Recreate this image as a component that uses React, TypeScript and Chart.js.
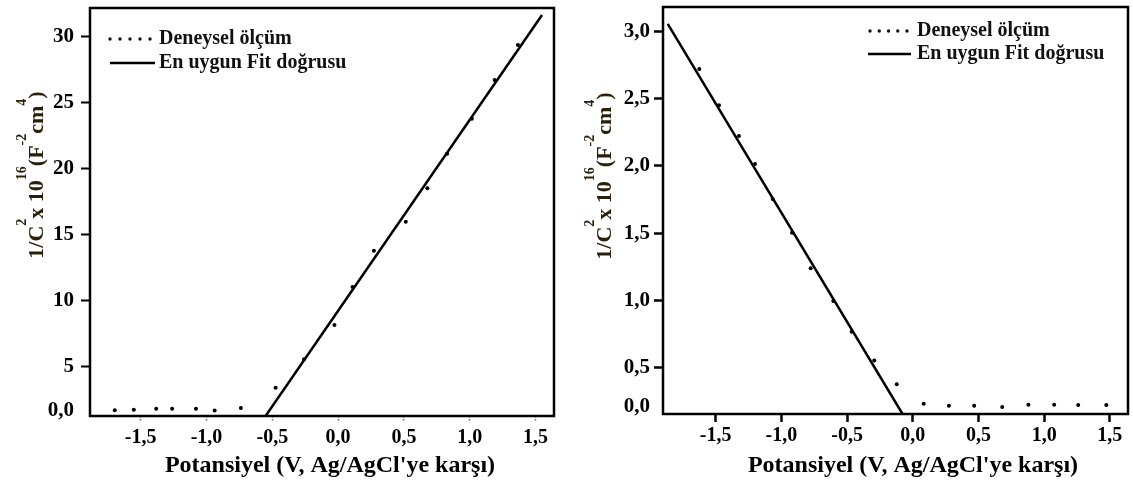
import React, { useEffect, useRef } from 'react';
import { Chart, registerables, LinearScale } from 'chart.js';

// ---- shared text ----
const seriesLabels = ['Deneysel ölçüm', 'En uygun Fit doğrusu'];
const xTitle = "Potansiyel (V, Ag/AgCl'ye karşı)";
// y title pieces: [text, isSuperscript]
const yTitleParts: [string, boolean][] = [
  ['1/C', false], ['2', true], ['x 10', false], ['16', true],
  ['(F', false], ['-2', true], ['cm', false], ['4', true], [')', false],
];

// ---- tick values ----
const xTicks = [-1.5, -1.0, -0.5, 0.0, 0.5, 1.0, 1.5];
const leftYTicks = [0, 5, 10, 15, 20, 25, 30];
const rightYTicks = [0, 0.5, 1.0, 1.5, 2.0, 2.5, 3.0];

// ---- left panel: measured points and fitted line ----
const leftMeasX = [-1.697, -1.552, -1.382, -1.261, -1.080, -0.938, -0.739,
  -0.475, -0.259, -0.028, 0.109, 0.272, 0.514, 0.678, 0.828, 1.016, 1.189, 1.366];
const leftMeasY = [0.05, 0.12, 0.21, 0.21, 0.21, 0.02, 0.31,
  2.6, 5.54, 8.14, 11.01, 13.76, 15.96, 18.49, 21.10, 23.75, 26.68, 29.33];
const leftFitX = [-0.551, 1.549];
const leftFitY = [-0.6, 31.6];

// ---- right panel: measured points and fitted line ----
const rightMeasX = [-1.625, -1.475, -1.323, -1.201, -1.066, -0.919, -0.777, -0.605, -0.465,
  -0.293, -0.122, 0.083, 0.275, 0.467, 0.681, 0.880, 1.076, 1.259, 1.473];
const rightMeasY = [2.721, 2.451, 2.223, 2.015, 1.755, 1.504, 1.240, 0.997, 0.769,
  0.555, 0.29, 0.04, 0.015, 0.015, 0.0, 0.03, 0.03, 0.025, 0.025];
const rightFitX = [-1.865, -0.078];
const rightFitY = [3.055, -0.09];

const FONT = '"Liberation Serif", "Times New Roman", serif';

// Linear axis whose segment below `breakAt` is compressed, so the zero
// label sits just above the frame (axis break near the origin).
class SplitLinearScale extends LinearScale {
  static id = 'splitLinear';
  static defaults = {};
  toDisplay(v: number) {
    const o: any = this.options;
    const b = o.breakAt, z = o.zeroAt;
    return v >= b ? v : z + (v * (b - z)) / b;
  }
  fromDisplay(d: number) {
    const o: any = this.options;
    const b = o.breakAt, z = o.zeroAt;
    return d >= b ? d : ((d - z) * b) / (b - z);
  }
  configure() {
    super.configure();
    const self: any = this;
    self._startValue = this.toDisplay(this.min);
    self._endValue = this.toDisplay(this.max);
    self._valueRange = self._endValue - self._startValue;
  }
  getPixelForValue(value: any) {
    if (value === null || value === undefined || isNaN(value)) return NaN;
    const self: any = this;
    return this.getPixelForDecimal((this.toDisplay(value) - self._startValue) / self._valueRange);
  }
  getValueForPixel(pixel: number) {
    const self: any = this;
    return this.fromDisplay(self._startValue + this.getDecimalForPixel(pixel) * self._valueRange);
  }
}

Chart.register(...registerables, SplitLinearScale);

// Frame, in-plot legend and axis titles
const panelDecor = {
  id: 'panelDecor',
  afterDatasetsDraw(chart: any) {
    const { ctx, chartArea: a } = chart;
    ctx.save();
    ctx.strokeStyle = '#000';
    ctx.lineWidth = 2.5;
    ctx.strokeRect(a.left, a.top, a.right - a.left, a.bottom - a.top);
    ctx.restore();
  },
  afterDraw(chart: any, _args: any, o: any) {
    const { ctx } = chart;
    const ds = chart.data.datasets;
    ctx.save();
    // legend
    ctx.fillStyle = '#111';
    ctx.strokeStyle = '#000';
    ctx.font = `bold 20px ${FONT}`;
    ctx.textAlign = 'left';
    ctx.textBaseline = 'middle';
    const [d0, d1] = o.dotsX;
    for (let i = 0; i < 5; i++) {
      ctx.beginPath();
      ctx.arc(d0 + (i * (d1 - d0)) / 4, o.rowY[0], 1.7, 0, Math.PI * 2);
      ctx.fill();
    }
    ctx.fillText(ds[0].label, o.textX, o.rowY[0]);
    ctx.lineWidth = 2.5;
    ctx.beginPath();
    ctx.moveTo(o.lineX[0], o.rowY[1]);
    ctx.lineTo(o.lineX[1], o.rowY[1]);
    ctx.stroke();
    ctx.fillText(ds[1].label, o.textX, o.rowY[1]);

    // x title
    ctx.fillStyle = '#000';
    ctx.font = `bold 24px ${FONT}`;
    ctx.textAlign = 'center';
    ctx.fillText(xTitle, o.xTitle[0], o.xTitle[1]);

    // y title, rotated, with superscripts
    const mainFont = `bold 22px ${FONT}`;
    const supFont = `bold 14px ${FONT}`;
    let total = 0;
    const widths = yTitleParts.map(([t, sup]) => {
      ctx.font = sup ? supFont : mainFont;
      const w = ctx.measureText(t).width;
      total += w;
      return w;
    });
    ctx.translate(o.yTitle[0], o.yTitle[1]);
    ctx.rotate(-Math.PI / 2);
    ctx.fillStyle = '#2a1f08';
    ctx.textAlign = 'left';
    ctx.textBaseline = 'alphabetic';
    let x = -total / 2;
    yTitleParts.forEach(([t, sup], i) => {
      ctx.font = sup ? supFont : mainFont;
      ctx.fillText(t, x, sup ? -17 : 0);
      x += widths[i];
    });
    ctx.restore();
  },
};

type PanelSpec = {
  width: number;
  area: { left: number; right: number; top: number; bottom: number };
  xRange: [number, number];
  yRange: [number, number];
  yBreak: [number, number];
  yTicks: number[];
  yLabel: (v: number) => string;
  measX: number[]; measY: number[]; fitX: number[]; fitY: number[];
  xTick: { length: number; width: number; color: string; dash: number[]; padding: number };
  yTick: { length: number; width: number; padding: number };
  decor: any;
};

const comma = (v: number) => v.toFixed(1).replace('.', ',');

function buildConfig(p: PanelSpec): any {
  const tickFont = { family: FONT, size: 20, weight: 'bold' as const };
  return {
    type: 'scatter',
    data: {
      datasets: [
        {
          label: seriesLabels[0],
          data: p.measX.map((x, i) => ({ x, y: p.measY[i] })),
          showLine: false,
          pointRadius: 2,
          pointBackgroundColor: '#000',
          pointBorderWidth: 0,
        },
        {
          label: seriesLabels[1],
          data: p.fitX.map((x, i) => ({ x, y: p.fitY[i] })),
          showLine: true,
          borderColor: '#000',
          borderWidth: 2.5,
          pointRadius: 0,
        },
      ],
    },
    options: {
      responsive: false,
      animation: false,
      devicePixelRatio: 1,
      layout: { padding: { top: p.area.top, right: p.width - p.area.right, left: 0, bottom: 0 } },
      plugins: {
        legend: { display: false },
        tooltip: { enabled: false },
        panelDecor: p.decor,
      },
      scales: {
        x: {
          type: 'linear',
          position: 'bottom',
          min: p.xRange[0],
          max: p.xRange[1],
          afterBuildTicks: (s: any) => { s.ticks = xTicks.map((value) => ({ value })); },
          afterFit: (s: any) => {
            s.height = 483 - p.area.bottom;
            s.paddingLeft = 0;
            s.paddingRight = 0;
          },
          border: { display: false },
          grid: {
            drawOnChartArea: false,
            drawTicks: true,
            tickLength: p.xTick.length,
            tickWidth: p.xTick.width,
            tickColor: p.xTick.color,
            tickBorderDash: p.xTick.dash,
          },
          ticks: {
            font: tickFont,
            color: '#000',
            padding: p.xTick.padding,
            maxRotation: 0,
            autoSkip: false,
            callback: (v: any) => comma(Number(v)),
          },
        },
        y: {
          type: 'splitLinear',
          breakAt: p.yBreak[0],
          zeroAt: p.yBreak[1],
          min: p.yRange[0],
          max: p.yRange[1],
          afterBuildTicks: (s: any) => { s.ticks = p.yTicks.map((value) => ({ value })); },
          afterFit: (s: any) => {
            s.width = p.area.left;
            s.paddingTop = 0;
            s.paddingBottom = 0;
          },
          border: { display: false },
          grid: {
            drawOnChartArea: false,
            drawTicks: true,
            tickLength: p.yTick.length,
            tickWidth: p.yTick.width,
            tickColor: (c: any) => (c.tick && c.tick.value === 0 ? 'rgba(0,0,0,0)' : '#000'),
          },
          ticks: {
            font: { ...tickFont, size: 21 },
            color: '#000',
            padding: p.yTick.padding,
            autoSkip: false,
            callback: (v: any) => p.yLabel(Number(v)),
          },
        },
      },
    },
    plugins: [panelDecor],
  };
}

const leftPanel: PanelSpec = {
  width: 566,
  area: { left: 90, right: 554, top: 8, bottom: 416 },
  xRange: [-1.885, 1.64],
  yRange: [-0.6, 32.13],
  yBreak: [5, 1.65],
  yTicks: leftYTicks,
  yLabel: (v) => (v === 0 ? '0,0' : String(v)),
  measX: leftMeasX, measY: leftMeasY, fitX: leftFitX, fitY: leftFitY,
  xTick: { length: 6, width: 1.5, color: '#666', dash: [1.5, 1.5], padding: 4 },
  yTick: { length: 9, width: 2, padding: 7 },
  decor: {
    dotsX: [110, 150], rowY: [39, 63], lineX: [110, 155], textX: 159,
    xTitle: [330, 466], yTitle: [43, 175],
  },
};

const rightPanel: PanelSpec = {
  width: 567,
  area: { left: 97, right: 562, top: 7, bottom: 414 },
  xRange: [-1.901, 1.638],
  yRange: [-0.09, 3.181],
  yBreak: [0.5, 0.21],
  yTicks: rightYTicks,
  yLabel: (v) => comma(v),
  measX: rightMeasX, measY: rightMeasY, fitX: rightFitX, fitY: rightFitY,
  xTick: { length: 8, width: 2.5, color: '#000', dash: [], padding: 2 },
  yTick: { length: 9, width: 2.5, padding: 4 },
  decor: {
    dotsX: [304, 341], rowY: [31, 54], lineX: [302, 345], textX: 351,
    xTitle: [347, 466], yTitle: [45, 176],
  },
};

function Panel({ left, spec }: { left: number; spec: PanelSpec }) {
  const ref = useRef<HTMLCanvasElement>(null);
  useEffect(() => {
    const chart = new Chart(ref.current as HTMLCanvasElement, buildConfig(spec));
    return () => chart.destroy();
  }, [spec]);
  return (
    <canvas
      ref={ref}
      width={spec.width}
      height={483}
      style={{ position: 'absolute', left, top: 0, width: spec.width, height: 483 }}
    />
  );
}

export default function App() {
  return (
    <div style={{ position: 'absolute', left: 0, top: 0, width: 1133, height: 483, background: '#fff' }}>
      <Panel left={0} spec={leftPanel} />
      <Panel left={566} spec={rightPanel} />
    </div>
  );
}
